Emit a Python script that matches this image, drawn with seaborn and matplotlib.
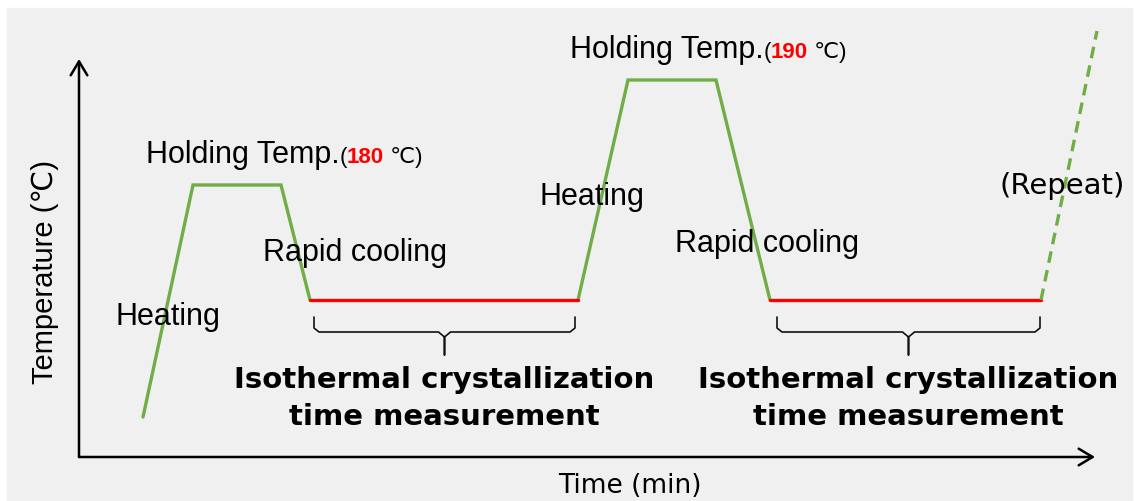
import numpy as np
import pandas as pd
import seaborn as sns
import matplotlib.pyplot as plt
from matplotlib.patches import Rectangle

# Schematic temperature programme (arbitrary time / temperature units)
time_pts = [64, 114, 202, 231, 499, 549, 637, 691, 962, 1018]
temp_pts = [40, 272, 272, 157, 157, 377, 377, 157, 157, 426]

hold_temps = ['180', '190']
iso_spans = [(235, 496), (698, 961)]

GREEN = '#70AD47'
RED = '#FF0000'
BG = '#F0F0F0'

sns.set_style('white')
plt.rcParams['font.family'] = ['Liberation Sans', 'DejaVu Sans']
plt.rcParams['text.color'] = 'black'

fig = plt.figure(figsize=(11.38, 5.02), dpi=100)
fig.add_artist(Rectangle((7 / 1138, 0), 1125 / 1138, 493 / 502,
                         transform=fig.transFigure, color=BG, zorder=0))
ax = fig.add_axes([79 / 1138, 44 / 502, 1016 / 1138, 398 / 502])
ax.set_facecolor('none')
ax.set_xlim(0, 1016)
ax.set_ylim(0, 398)
ax.set_xticks([])
ax.set_yticks([])
for s in ax.spines.values():
    s.set_visible(False)

df = pd.DataFrame({'time': time_pts, 'temp': temp_pts})

# green: heating, hold, rapid cooling; red: isothermal; dashed: repeat
green1 = df.iloc[0:4]
green2 = df.iloc[4:8]
red1 = df.iloc[3:5]
red2 = df.iloc[7:9]
dash = df.iloc[8:10]
for part in (green1, green2):
    sns.lineplot(data=part, x='time', y='temp', sort=False, estimator=None,
                 color=GREEN, lw=2.4, ax=ax)
for part in (red1, red2):
    sns.lineplot(data=part, x='time', y='temp', sort=False, estimator=None,
                 color=RED, lw=2.4, ax=ax)
sns.lineplot(data=dash, x='time', y='temp', sort=False, estimator=None,
             color=GREEN, lw=2.4, ax=ax)
ax.lines[-1].set_dashes((3.5, 2.2))
for ln in ax.lines:
    ln.set_clip_on(False)
    ln.set_solid_joinstyle('miter')

ax.set_xlabel('')
ax.set_ylabel('')

# axes drawn as arrows
arrow = dict(arrowstyle='->, head_length=0.5, head_width=0.3', lw=1.8,
             color='black', shrinkA=0, shrinkB=0, mutation_scale=20)
ax.annotate('', xy=(1, 0), xytext=(0, 0), xycoords='axes fraction', arrowprops=arrow)
ax.annotate('', xy=(0, 1), xytext=(0, 0), xycoords='axes fraction', arrowprops=arrow)

ax.text(551, -35, 'Time (min)', ha='center', va='baseline', fontsize=19,
        family='DejaVu Sans')
ax.text(-34, 186, 'Temperature (℃)', ha='center', va='center', rotation=90,
        fontsize=21)

# labels
lab = dict(fontsize=22, va='baseline', ha='left')
ax.text(37, 133, 'Heating', **lab)
ax.text(184, 197, 'Rapid cooling', **lab)
ax.text(461, 253, 'Heating', **lab)
ax.text(596, 206, 'Rapid cooling', **lab)
ax.text(921, 264, '(Repeat)', fontsize=21, va='baseline', family='DejaVu Sans')

renderer = fig.canvas.get_renderer()


def holding(x, y, value):
    pieces = [('Holding Temp.', 22, 'normal', 'black'),
              ('(', 16, 'normal', 'black'),
              (value, 16, 'bold', RED),
              (' ℃)', 16, 'normal', 'black')]
    cx = x
    for txt, size, weight, col in pieces:
        t = ax.text(cx, y, txt, fontsize=size, fontweight=weight, color=col,
                    va='baseline', ha='left')
        bb = t.get_window_extent(renderer)
        cx = ax.transData.inverted().transform((bb.x1, bb.y0))[0]


holding(67, 295, hold_temps[0])
holding(491, 400, hold_temps[1])


def brace(x0, x1, top=140, mid=125, tip=102):
    xc = (x0 + x1) / 2
    xs = [x0, x0, x0 + 5, xc - 6, xc, xc, xc, xc + 6, x1 - 5, x1, x1]
    ys = [top, mid + 4, mid, mid, mid - 5, tip, mid - 5, mid, mid, mid + 4, top]
    ax.plot(xs, ys, color='#111111', lw=1.2, clip_on=False)
    return xc


for x0, x1 in iso_spans:
    xc = brace(x0, x1)
    bold = dict(fontsize=21, fontweight='bold', ha='center', va='baseline',
                family='DejaVu Sans')
    ax.text(xc, 70, 'Isothermal crystallization', **bold)
    ax.text(xc, 33, 'time measurement', **bold)

fig.savefig('out.png', dpi=100)
